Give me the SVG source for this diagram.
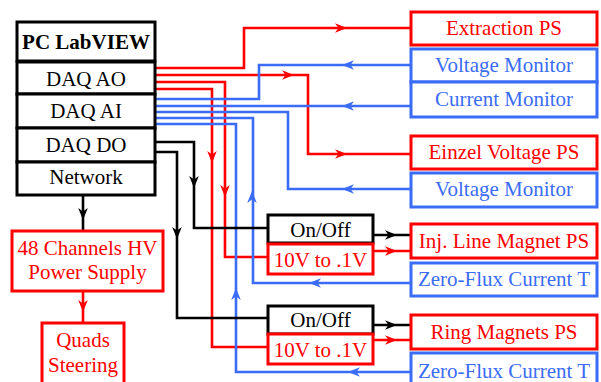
<svg xmlns="http://www.w3.org/2000/svg" xmlns:xlink="http://www.w3.org/1999/xlink" width="601" height="382" viewBox="0 0 601 382">
<style>
text{font-family:"Liberation Serif","Times New Roman",serif;font-size:21px;text-anchor:middle}
.bk rect{fill:#fff;stroke:#000;stroke-width:3}
.rd rect{fill:#fff;stroke:#ff0000;stroke-width:3}
.bl rect{fill:#fff;stroke:#3a6cf6;stroke-width:3}
.bk text{fill:#000}.rd text{fill:#ff0000}.bl text{fill:#3a6cf6}
.c{fill:none;stroke-width:2.6;stroke-linejoin:miter}
.ck{stroke:#000}.cr{stroke:#ff0000}.cb{stroke:#3a6cf6}
.ak{fill:#000}.ar{fill:#ff0000}.ab{fill:#3a6cf6}
</style>
<defs>
<path id="ah" d="M0,0 L-12,-4.8 L-8.5,0 L-12,4.8 Z"/>
</defs>
<rect width="601" height="382" fill="#fff"/>
<g id="connectors">
<path class="c cr" d="M155,68 H244 V28 H411"/>
<path class="c cr" d="M155,75 H308 V154 H411"/>
<path class="c cr" d="M155,82 H225 V257 H268"/>
<path class="c cr" d="M155,89 H212 V347 H268"/>
<path class="c cb" d="M411,65 H259 V99 H155"/>
<path class="c cb" d="M411,106 H155"/>
<path class="c cb" d="M411,189 H288 V112 H155"/>
<path class="c cb" d="M411,283 H253 V118 H155"/>
<path class="c cb" d="M411,372 H236 V124 H155"/>
<path class="c ck" d="M155,142 H194 V228 H268"/>
<path class="c ck" d="M155,152 H177 V318 H268"/>
<path class="c ck" d="M83,195 V231"/>
<path class="c cr" d="M83,291 V323"/>
<path class="c ck" d="M373,235 H411"/>
<path class="c cr" d="M373,251 H411"/>
<path class="c ck" d="M373,325 H411"/>
<path class="c cr" d="M373,340 H411"/>
<use xlink:href="#ah" class="ar" transform="translate(347,28)"/>
<use xlink:href="#ah" class="ar" transform="translate(294,75)"/>
<use xlink:href="#ah" class="ar" transform="translate(347,154)"/>
<use xlink:href="#ah" class="ar" transform="translate(225,197) rotate(90)"/>
<use xlink:href="#ah" class="ar" transform="translate(212,163) rotate(90)"/>
<use xlink:href="#ah" class="ab" transform="translate(342,65) rotate(180)"/>
<use xlink:href="#ah" class="ab" transform="translate(342,106) rotate(180)"/>
<use xlink:href="#ah" class="ab" transform="translate(342,189) rotate(180)"/>
<use xlink:href="#ah" class="ab" transform="translate(309,283) rotate(180)"/>
<use xlink:href="#ah" class="ab" transform="translate(348,372) rotate(180)"/>
<use xlink:href="#ah" class="ab" transform="translate(252,191) rotate(-90)"/>
<use xlink:href="#ah" class="ab" transform="translate(236,288) rotate(-90)"/>
<use xlink:href="#ah" class="ak" transform="translate(194,188) rotate(90)"/>
<use xlink:href="#ah" class="ak" transform="translate(177,239) rotate(90)"/>
<use xlink:href="#ah" class="ak" transform="translate(83,220) rotate(90)"/>
<use xlink:href="#ah" class="ar" transform="translate(83,312) rotate(90)"/>
<use xlink:href="#ah" class="ak" transform="translate(397,235)"/>
<use xlink:href="#ah" class="ar" transform="translate(397,251)"/>
<use xlink:href="#ah" class="ak" transform="translate(397,325)"/>
<use xlink:href="#ah" class="ar" transform="translate(397,340)"/>
</g>
<g id="pc" class="bk">
<rect x="17" y="22" width="138" height="39"/>
<text x="86" y="49" font-weight="bold">PC LabVIEW</text>
</g>
<g id="daq-ao" class="bk"><rect x="17" y="62" width="138" height="32"/><text x="86" y="86">DAQ AO</text></g>
<g id="daq-ai" class="bk"><rect x="17" y="94" width="138" height="34"/><text x="86" y="118">DAQ AI</text></g>
<g id="daq-do" class="bk"><rect x="17" y="128" width="138" height="34"/><text x="86" y="152">DAQ DO</text></g>
<g id="network" class="bk"><rect x="17" y="162" width="138" height="33"/><text x="86" y="184">Network</text></g>
<g id="hv" class="rd"><rect x="12" y="231" width="151" height="60"/><text x="87.5" y="255">48 Channels HV</text><text x="87.5" y="279">Power Supply</text></g>
<g id="quads" class="rd"><rect x="42" y="323" width="82" height="70"/><text x="83" y="347">Quads</text><text x="83" y="372">Steering</text></g>
<g id="onoff1" class="bk"><rect x="268" y="215" width="105" height="28"/><text x="320.5" y="237">On/Off</text></g>
<g id="conv1" class="rd"><rect x="268" y="244" width="105" height="30"/><text x="320.5" y="267">10V to .1V</text></g>
<g id="onoff2" class="bk"><rect x="268" y="306" width="105" height="28"/><text x="320.5" y="327">On/Off</text></g>
<g id="conv2" class="rd"><rect x="268" y="334" width="105" height="30"/><text x="320.5" y="357">10V to .1V</text></g>
<g id="extraction" class="rd"><rect x="411" y="12" width="186" height="33"/><text x="504" y="35">Extraction PS</text></g>
<g id="vmon1" class="bl"><rect x="411" y="49" width="186" height="33"/><text x="504" y="72">Voltage Monitor</text></g>
<g id="cmon1" class="bl"><rect x="411" y="82" width="186" height="35"/><text x="504" y="106">Current Monitor</text></g>
<g id="einzel" class="rd"><rect x="411" y="136" width="186" height="33"/><text x="504" y="159">Einzel Voltage PS</text></g>
<g id="vmon2" class="bl"><rect x="411" y="173" width="186" height="34"/><text x="504" y="196">Voltage Monitor</text></g>
<g id="injline" class="rd"><rect x="411" y="224" width="186" height="34"/><text x="504" y="248">Inj. Line Magnet PS</text></g>
<g id="zf1" class="bl"><rect x="411" y="263" width="186" height="33"/><text x="504" y="286">Zero-Flux Current T</text></g>
<g id="ring" class="rd"><rect x="411" y="315" width="186" height="34"/><text x="504" y="339">Ring Magnets PS</text></g>
<g id="zf2" class="bl"><rect x="411" y="353" width="186" height="34"/><text x="504" y="378">Zero-Flux Current T</text></g>
</svg>
